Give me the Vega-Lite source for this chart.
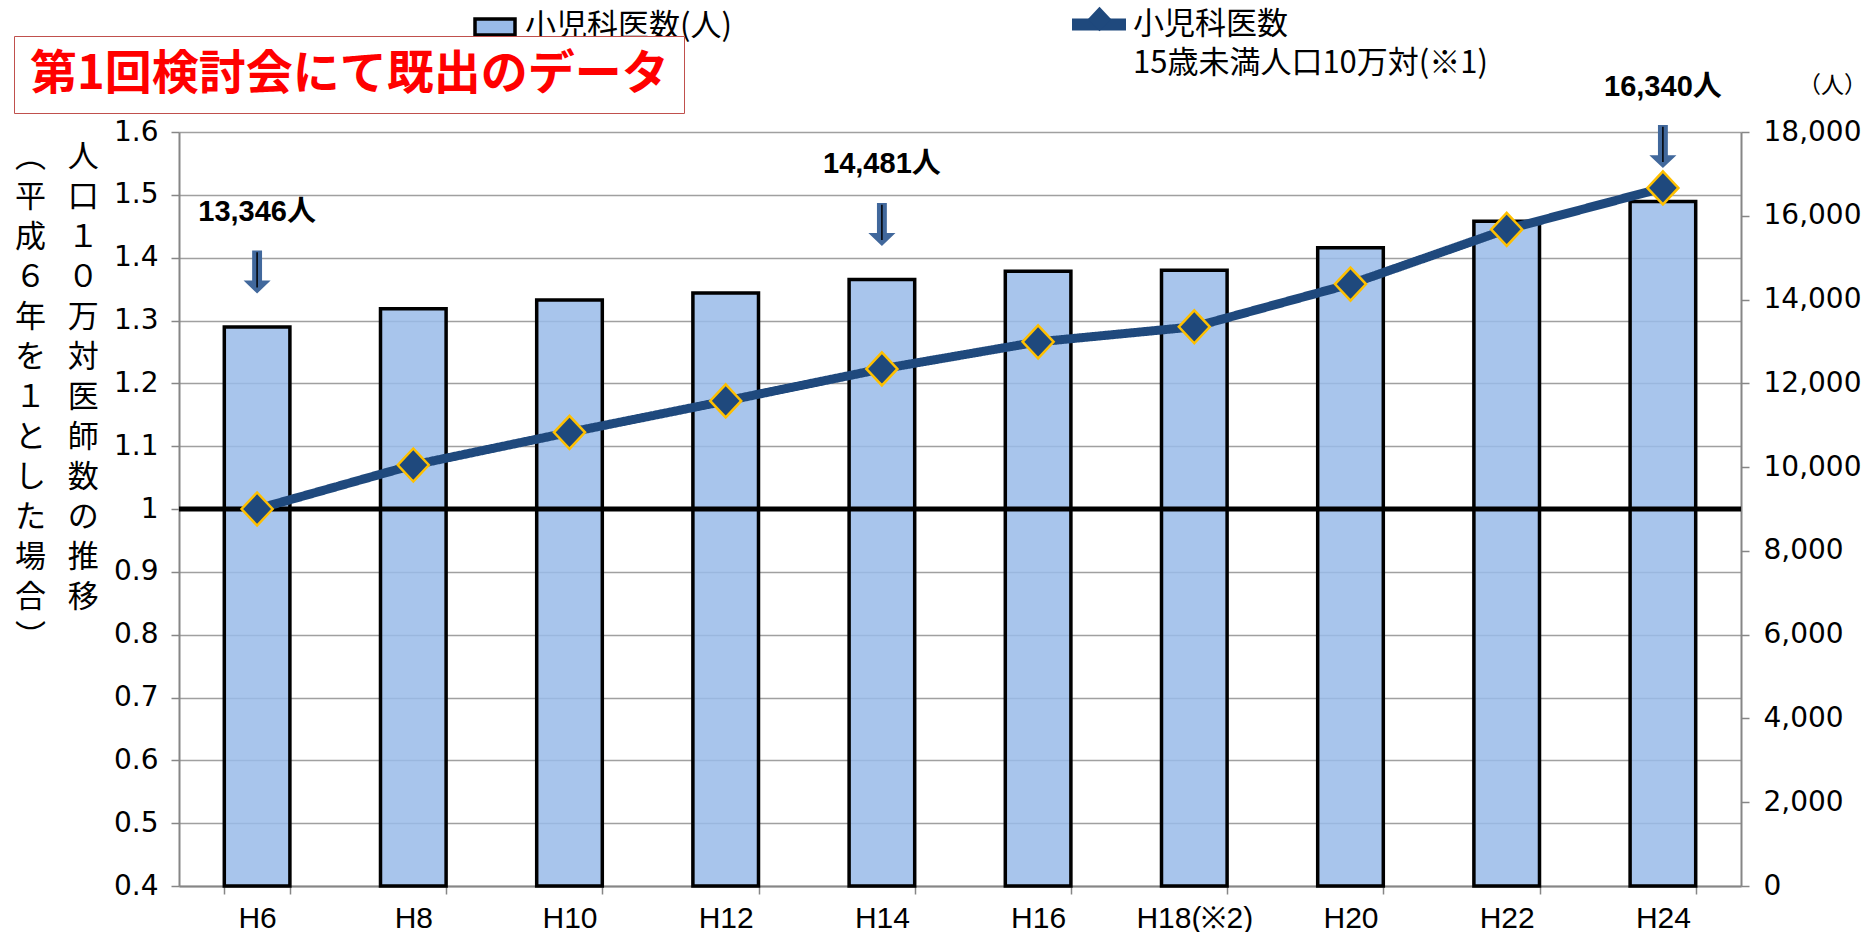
{
  "$schema": "https://vega.github.io/schema/vega-lite/v6.json",
  "width": 1562,
  "height": 754,
  "autosize": {"type": "none"},
  "padding": {"left": 179, "top": 132, "right": 129, "bottom": 46},
  "background": "white",
  "config": {"view": {"stroke": null}},
  "data": {
    "values": [
      {"year": "H6", "doctors": 13346, "ratio": 1.000, "note": "13,346人"},
      {"year": "H8", "doctors": 13781, "ratio": 1.070},
      {"year": "H10", "doctors": 13989, "ratio": 1.122},
      {"year": "H12", "doctors": 14156, "ratio": 1.172},
      {"year": "H14", "doctors": 14481, "ratio": 1.223, "note": "14,481人"},
      {"year": "H16", "doctors": 14677, "ratio": 1.266},
      {"year": "H18(※2)", "doctors": 14700, "ratio": 1.290},
      {"year": "H20", "doctors": 15236, "ratio": 1.358},
      {"year": "H22", "doctors": 15870, "ratio": 1.445},
      {"year": "H24", "doctors": 16340, "ratio": 1.511, "note": "16,340人"}
    ]
  },
  "layer": [
    {
      "mark": {"type": "bar", "stroke": "black", "strokeWidth": 3.5, "fillOpacity": 0.85},
      "encoding": {
        "x": {
          "field": "year", "type": "nominal", "sort": null,
          "scale": {"type": "band", "domain": ["H6", "H8", "H10", "H12", "H14", "H16", "H18(※2)", "H20", "H22", "H24"], "paddingInner": 0.58, "paddingOuter": 0.29},
          "axis": {
            "title": null, "labelAngle": 0, "tickBand": "extent",
            "domainColor": "#868686", "domainWidth": 2,
            "tickColor": "#868686", "tickWidth": 1.5, "tickSize": 8,
            "labelFont": "Liberation Sans", "labelFontSize": 30, "labelColor": "black", "labelPadding": 9
          }
        },
        "y": {
          "field": "doctors", "type": "quantitative",
          "scale": {"domain": [0, 18000], "nice": false, "zero": true},
          "axis": {
            "orient": "right", "values": [0, 2000, 4000, 6000, 8000, 10000, 12000, 14000, 16000, 18000],
            "labelExpr": "format(datum.value, ',')", "grid": false,
            "domainColor": "#868686", "domainWidth": 2,
            "tickColor": "#868686", "tickWidth": 1.5, "tickSize": 8,
            "labelFont": "DejaVu Sans", "labelFontSize": 28, "labelColor": "black", "labelPadding": 14,
            "title": "（人）", "titleAngle": 0, "titleX": 91, "titleY": -47,
            "titleAlign": "center", "titleBaseline": "middle",
            "titleFont": "Noto Sans CJK JP", "titleFontSize": 23, "titleFontWeight": "normal", "titleColor": "black"
          }
        },
        "fill": {
          "datum": "小児科医数(人)", "type": "nominal",
          "scale": {"range": ["#99bbe9"]},
          "legend": {
            "title": null, "orient": "none", "legendX": 294, "legendY": -127, "padding": 0,
            "symbolType": "M-1,-0.4H1V0.4H-1Z", "symbolSize": 1600,
            "symbolStrokeColor": "black", "symbolStrokeWidth": 3.5,
            "labelOffset": 8, "labelFont": "Noto Sans CJK JP", "labelFontSize": 31, "labelColor": "black", "labelLimit": 1000
          }
        }
      }
    },
    {
      "layer": [
        {
          "data": {"values": [{}]},
          "mark": {"type": "rule", "color": "black", "strokeWidth": 5},
          "encoding": {
            "y": {
              "datum": 1, "type": "quantitative",
              "scale": {"domain": [0.4, 1.6], "nice": false, "zero": false},
              "axis": {
                "orient": "left", "values": [0.4, 0.5, 0.6, 0.7, 0.8, 0.9, 1, 1.1, 1.2, 1.3, 1.4, 1.5, 1.6],
                "labelExpr": "datum.value == 1 ? '1' : format(datum.value, '.1f')",
                "grid": true, "gridColor": "#a0a0a0", "gridWidth": 1.6,
                "domainColor": "#868686", "domainWidth": 2,
                "tickColor": "#868686", "tickWidth": 1.5, "tickSize": 8,
                "labelFont": "DejaVu Sans", "labelFontSize": 28, "labelColor": "black", "labelPadding": 13,
                "title": ["︵\u2002\u2009人", "平\u2002\u2009口", "成\u2002\u2009１", "６\u2002\u2009０", "年\u2002\u2009万", "を\u2002\u2009対", "１\u2002\u2009医", "と\u2002\u2009師", "し\u2002\u2009数", "た\u2002\u2009の", "場\u2002\u2009推", "合\u2002\u2009移", "︶"],
                "titleAngle": 0, "titleAlign": "left", "titleBaseline": "top",
                "titleX": -164.5, "titleY": 10, "titleLineHeight": 40,
                "titleFont": "Noto Sans CJK JP", "titleFontSize": 31, "titleFontWeight": "normal", "titleColor": "black"
              }
            }
          }
        },
        {
          "mark": {"type": "line", "strokeWidth": 9, "strokeJoin": "round"},
          "encoding": {
            "x": {"field": "year", "type": "nominal", "sort": null},
            "y": {"field": "ratio", "type": "quantitative"},
            "stroke": {
              "datum": "小児科医数", "type": "nominal",
              "scale": {"range": ["#1f497d"]},
              "legend": {
                "title": null, "orient": "none", "legendX": 887, "legendY": -140.5, "padding": 0,
                "symbolType": "stroke", "symbolSize": 2916, "symbolStrokeWidth": 12,
                "labelOffset": 1, "labelFont": "Noto Sans CJK JP", "labelFontSize": 31, "labelColor": "black", "labelLimit": 1000
              }
            },
            "strokeDash": {
              "datum": "15歳未満人口10万対(※1)", "type": "nominal",
              "scale": {"range": [[1, 0]]},
              "legend": {
                "title": null, "orient": "none", "legendX": 887, "legendY": -101, "padding": 0,
                "symbolType": "stroke", "symbolSize": 2916, "symbolStrokeWidth": 12, "symbolOpacity": 0,
                "labelOffset": 1, "labelFont": "Noto Sans CJK JP", "labelFontSize": 31, "labelColor": "black", "labelLimit": 1000
              }
            }
          }
        },
        {
          "mark": {"type": "point", "filled": true, "fill": "#1f497d", "stroke": "#ffc000", "strokeWidth": 2.5, "size": 1089, "opacity": 1},
          "encoding": {
            "x": {"field": "year", "type": "nominal", "sort": null},
            "y": {"field": "ratio", "type": "quantitative"},
            "shape": {
              "datum": "◆", "type": "nominal",
              "scale": {"range": ["M0,-1L0.94,0L0,1L-0.94,0Z"]},
              "legend": {
                "title": null, "orient": "none", "legendX": 907, "legendY": -126.5, "padding": 0,
                "symbolSize": 600, "symbolFillColor": "#1f497d", "symbolStrokeColor": "#ffc000", "symbolStrokeWidth": 2,
                "symbolOpacity": 1, "labelExpr": "''"
              }
            }
          }
        }
      ]
    },
    {
      "transform": [{"filter": "isValid(datum.note)"}],
      "encoding": {
        "x": {"field": "year", "type": "nominal", "sort": null},
        "y": {"field": "doctors", "type": "quantitative", "scale": {"domain": [0, 18000], "nice": false}, "axis": null}
      },
      "layer": [
        {
          "mark": {"type": "point", "shape": "M-0.23,-1H0.23V0.4H0.63L0,1L-0.63,0.4H-0.23Z", "size": 1849, "filled": true, "fill": "#41689c", "strokeWidth": 0, "opacity": 1, "yOffset": -55}
        },
        {
          "mark": {"type": "point", "shape": "M0,-0.92V0.72", "size": 1849, "filled": false, "stroke": "black", "strokeWidth": 1.5, "opacity": 1, "yOffset": -55}
        },
        {
          "mark": {"type": "text", "font": "Liberation Sans, Noto Sans CJK JP", "fontSize": 29, "fontWeight": "bold", "dy": -115, "baseline": "middle"},
          "encoding": {
            "text": {"field": "note"},
            "color": {
              "datum": "第1回検討会にて既出のデータ", "type": "nominal",
              "scale": {"range": ["black"]},
              "legend": {
                "title": null, "orient": "none", "legendX": -165, "legendY": -96, "padding": 15,
                "strokeColor": "#c0504d", "fillColor": "white",
                "symbolOpacity": 0, "symbolSize": 1, "labelOffset": -46,
                "labelFont": "Noto Sans CJK JP", "labelFontSize": 47, "labelFontWeight": "bold", "labelColor": "#ff0000", "labelLimit": 2000
              }
            }
          }
        }
      ]
    }
  ],
  "resolve": {"scale": {"y": "independent"}}
}
